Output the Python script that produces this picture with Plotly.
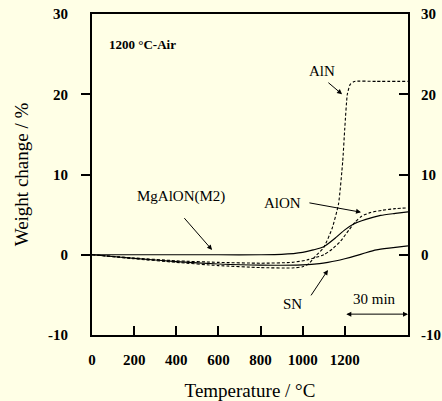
import plotly.graph_objects as go

# ---- data ----
mg_T = [0, 200, 400, 600, 800, 900, 1000, 1050, 1100, 1160, 1200, 1240, 1300, 1370, 1440, 1500]
mg_W = [0, 0, 0, 0, 0, 0.05, 0.3, 0.6, 1.0, 2.2, 3.1, 3.8, 4.4, 4.9, 5.15, 5.35]

alon_T = [0, 200, 400, 600, 800, 950, 1020, 1100, 1140, 1180, 1220, 1250, 1280, 1320, 1380, 1440, 1500]
alon_W = [0, -0.4, -0.75, -0.95, -1.05, -0.95, -0.65, 0.0, 0.7, 1.7, 3.1, 4.1, 4.8, 5.25, 5.55, 5.75, 5.85]

sn_T = [0, 200, 400, 600, 800, 1000, 1080, 1120, 1160, 1200, 1250, 1300, 1350, 1420, 1500]
sn_W = [0, -0.45, -0.85, -1.15, -1.3, -1.25, -1.1, -0.95, -0.75, -0.5, -0.15, 0.25, 0.6, 0.85, 1.1]

aln_T = [0, 200, 400, 600, 800, 950, 1000, 1030, 1060, 1100, 1140, 1170, 1190, 1200, 1212, 1225, 1245, 1350, 1500]
aln_W = [0, -0.5, -0.95, -1.35, -1.6, -1.65, -1.5, -1.1, -0.2, 0.9, 3.3, 6.3, 11.6, 15.8, 20.0, 21.2, 21.6, 21.6, 21.6]

x_ticks = [0, 200, 400, 600, 800, 1000, 1200]
y_labels = [-10, 0, 10, 20, 30]
y_minor = [0, 10, 20]

BG = "#FFFFE6"
FONT = "Liberation Serif"

fig = go.Figure()
solid = dict(color="black", width=1.2)
dashed = dict(color="black", width=1.1, dash="3px,2px")
fig.add_trace(go.Scatter(x=mg_T, y=mg_W, mode="lines", line=dict(shape="spline", smoothing=0.6, **solid)))
fig.add_trace(go.Scatter(x=alon_T, y=alon_W, mode="lines", line=dict(shape="spline", smoothing=0.6, **dashed)))
fig.add_trace(go.Scatter(x=sn_T, y=sn_W, mode="lines", yaxis="y2", line=dict(shape="spline", smoothing=0.6, **solid)))
fig.add_trace(go.Scatter(x=aln_T, y=aln_W, mode="lines", yaxis="y3", line=dict(shape="spline", smoothing=0.5, **dashed)))

bold_font = dict(family=FONT, size=15, color="black", weight="bold")
y_text = [str(v) for v in y_labels]

fig.update_layout(
    width=442, height=401,
    margin=dict(l=92, r=34, t=14, b=66),
    paper_bgcolor=BG, plot_bgcolor=BG,
    showlegend=False,
    font=dict(family=FONT, color="black"),
    xaxis=dict(range=[0, 1500], tickvals=x_ticks, ticktext=[str(v) for v in x_ticks],
               ticks="inside", ticklen=9, tickwidth=2, tickcolor="black",
               showline=True, linewidth=2, linecolor="black", mirror=True, automargin=False,
               showgrid=False, zeroline=False, tickfont=bold_font, ticklabelstandoff=10,
               title=dict(text="Temperature / °C", font=dict(family=FONT, size=19), standoff=18)),
    yaxis=dict(range=[-10, 30], tickvals=y_labels, ticktext=y_text, ticks="", showline=True, linewidth=2,
               linecolor="black", mirror=True, showgrid=False, zeroline=False, automargin=False,
               tickfont=bold_font, ticklabelstandoff=19,
               title=dict(text="Weight change / %", font=dict(family=FONT, size=19), standoff=14)),
    yaxis2=dict(range=[-10, 30], overlaying="y", side="left", tickvals=y_minor,
                ticks="outside", ticklen=10, tickwidth=2, tickcolor="black", automargin=False,
                showticklabels=False, showline=False, showgrid=False, zeroline=False),
    yaxis3=dict(range=[-10, 30], overlaying="y", side="right", tickvals=y_labels, ticktext=y_text,
                ticks="inside", ticklen=9, tickwidth=2, tickcolor="black", automargin=False,
                showticklabels=True, tickfont=bold_font, ticklabelstandoff=12,
                showline=False, showgrid=False, zeroline=False),
)

ann_font = dict(family=FONT, size=15, color="black")
def arrow(tail, tip, side="end"):
    fig.add_annotation(x=tip[0], y=tip[1], ax=tail[0], ay=tail[1], axref="x", ayref="y",
                       xref="x", yref="y", text="", showarrow=True, arrowhead=2,
                       arrowsize=1, arrowwidth=1, arrowcolor="black", arrowside=side)

def label(x, y, text, font=ann_font, xanchor="center"):
    fig.add_annotation(x=x, y=y, xref="x", yref="y", text=text, showarrow=False,
                       font=font, xanchor=xanchor, yanchor="middle")

label(71, 26.25, "1200 °C-Air", font=dict(family=FONT, size=13, color="black", weight="bold"), xanchor="left")
label(1092, 22.9, "AlN")
arrow((1115, 21.6), (1187, 20.0))
label(422, 7.25, "MgAlON(M2)")
arrow((432, 4.75), (570, 0.6))
label(906, 6.4, "AlON")
arrow((1025, 6.5), (1277, 5.3))
label(954, -6.1, "SN")
arrow((1035, -5.25), (1120, -1.9))
label(1343, -5.5, "30 min")
arrow((1200, -7.4), (1500, -7.4), side="end+start")

fig.write_html(
    "out.html",
    config={"displayModeBar": False},
    post_script="document.body.style.margin='0px';document.body.style.background='" + BG + "';",
)
